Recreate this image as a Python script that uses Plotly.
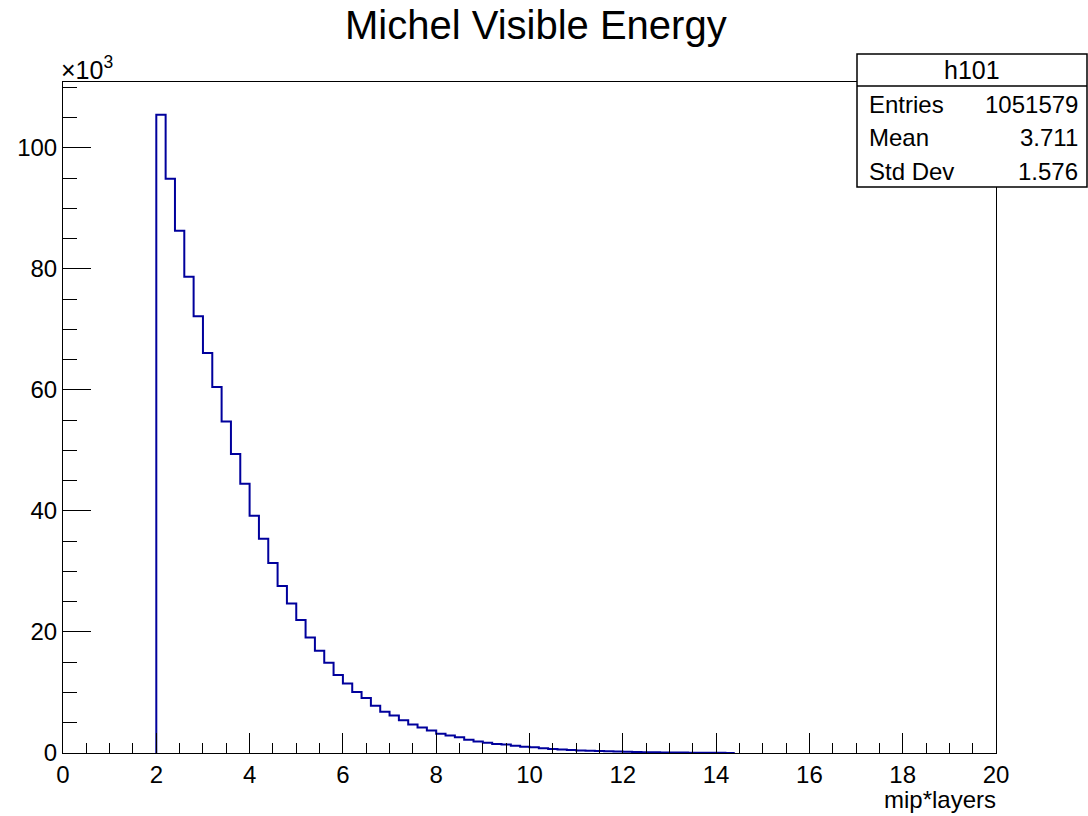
import numpy as np
import plotly.graph_objects as go

# ---------------- data ----------------
title_text = "Michel Visible Energy"
x_title = "mip*layers"
hist_name = "h101"
x_min, x_max, n_bins = 0.0, 20.0, 100
# bin contents in units of 10^3 entries, 100 bins of width 0.2
counts_k = (
    [0.0] * 10 +
    [105.5, 94.9, 86.3, 78.7, 72.2, 66.1, 60.5, 54.8, 49.4, 44.5,
     39.2, 35.4, 31.4, 27.6, 24.7, 22.0, 19.1, 16.9, 14.9, 12.9,
     11.5, 10.1, 9.1, 7.8, 6.8, 6.2, 5.4, 4.7, 4.2, 3.7,
     3.2, 2.9, 2.6, 2.2, 1.9, 1.7, 1.5, 1.4, 1.2, 1.05,
     0.93, 0.78, 0.66, 0.58, 0.50, 0.43, 0.37, 0.32, 0.27, 0.23,
     0.20, 0.17, 0.14, 0.12, 0.10, 0.08, 0.07, 0.06, 0.05, 0.04,
     0.03, 0.02] +
    [0.0] * 28
)
stats_labels = ["Entries", "Mean", "Std Dev"]
stats_values = ["1051579", "3.711", "1.576"]
y_max_k = 110.9

# ---------------- layout helpers ----------------
W, H = 1088, 816
L, R, T, B = 63, 996, 82, 753
FONT = "Liberation Sans, Arial, sans-serif"


def px_x(p):
    return (p - L) / (R - L)


def px_y(p):
    return (B - p) / (B - T)


edges = np.linspace(x_min, x_max, n_bins + 1)
counts_arr = np.array(counts_k)
nz = np.nonzero(counts_arr)[0]
i0, i1 = nz[0], nz[-1]
# outline of the filled bins: up from zero at the first edge, then the steps
x_line = [edges[i0]] + list(edges[i0:i1 + 2])
y_line = [0.0] + list(counts_arr[i0:i1 + 1]) + [counts_arr[i1]]

fig = go.Figure()
fig.add_trace(go.Scatter(
    x=x_line, y=y_line, mode="lines", line_shape="hv",
    line=dict(color="#00009c", width=2), hoverinfo="skip", showlegend=False,
))

axis_common = dict(
    showline=True, linecolor="black", linewidth=1, mirror=True,
    ticks="inside", tickcolor="black", tickwidth=1,
    showgrid=False, zeroline=False,
    tickfont=dict(family=FONT, size=24, color="black"),
)

fig.update_xaxes(range=[x_min, x_max], tick0=0, dtick=2, ticklen=20,
                 minor=dict(ticks="inside", ticklen=10, dtick=0.5, tickcolor="black", tickwidth=1, showgrid=False),
                 **axis_common)
fig.update_yaxes(range=[0, y_max_k], tick0=0, dtick=20, ticklen=28,
                 minor=dict(ticks="inside", ticklen=14, dtick=5, tickcolor="black", tickwidth=1, showgrid=False),
                 **axis_common)

annotations = [
    dict(text=title_text, x=px_x(535.5), y=px_y(25), xref="paper", yref="paper",
         xanchor="center", yanchor="middle", showarrow=False,
         font=dict(family=FONT, size=40, color="black")),
    dict(text=x_title, x=px_x(998), y=px_y(799), xref="paper", yref="paper",
         xanchor="right", yanchor="middle", showarrow=False,
         font=dict(family=FONT, size=24, color="black")),
    dict(text="×10<sup>3</sup>", x=px_x(59), y=px_y(68), xref="paper", yref="paper",
         xanchor="left", yanchor="middle", showarrow=False,
         font=dict(family=FONT, size=25, color="black")),
]

# stats box
bx0, bx1, by0, by1, bdiv = 857, 1087, 54, 187, 86
shapes = [
    dict(type="rect", xref="paper", yref="paper", x0=px_x(bx0), x1=px_x(bx1),
         y0=px_y(by1), y1=px_y(by0), line=dict(color="black", width=1.5),
         fillcolor="white", layer="above"),
    dict(type="line", xref="paper", yref="paper", x0=px_x(bx0), x1=px_x(bx1),
         y0=px_y(bdiv), y1=px_y(bdiv), line=dict(color="black", width=1.5), layer="above"),
]
annotations.append(dict(text=hist_name, x=px_x((bx0 + bx1) / 2), y=px_y(70), xref="paper", yref="paper",
                        xanchor="center", yanchor="middle", showarrow=False,
                        font=dict(family=FONT, size=25, color="black")))
row_y = [104, 138, 171]
for lab, val, ry in zip(stats_labels, stats_values, row_y):
    annotations.append(dict(text=lab, x=px_x(867), y=px_y(ry), xref="paper", yref="paper",
                            xanchor="left", yanchor="middle", showarrow=False,
                            font=dict(family=FONT, size=24, color="black")))
    annotations.append(dict(text=val, x=px_x(1080), y=px_y(ry), xref="paper", yref="paper",
                            xanchor="right", yanchor="middle", showarrow=False,
                            font=dict(family=FONT, size=24, color="black")))

fig.update_layout(
    width=W, height=H, autosize=False,
    margin=dict(l=L, r=W - R, t=T, b=H - B, pad=0),
    paper_bgcolor="white", plot_bgcolor="white",
    shapes=shapes, annotations=annotations, showlegend=False,
)

fig.write_html("out.html", config={"displayModeBar": False},
               post_script="document.body.style.margin='0';document.body.style.padding='0';")
